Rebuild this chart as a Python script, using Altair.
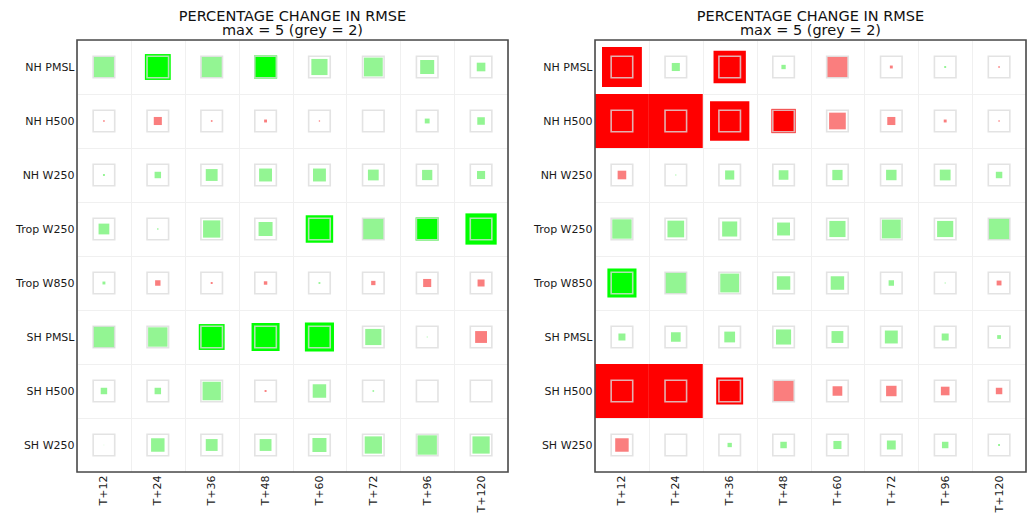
import altair as alt
import pandas as pd

ROWS = ["NH PMSL", "NH H500", "NH W250", "Trop W250", "Trop W850", "SH PMSL", "SH H500", "SH W250"]
LEADS = ["T+12", "T+24", "T+36", "T+48", "T+60", "T+72", "T+96", "T+120"]
MAX_VAL = 5
GREY_VAL = 2

# Percentage change in RMSE (negative = improvement, green; positive = degradation, red)
L_NH_PMSL = [-1.9, -2.4, -1.9, -2.15, -1.5, -1.75, -1.3, -0.8]
L_NH_H500 = [0.15, 0.75, 0.15, 0.27, 0.12, 0.0, -0.45, -0.7]
L_NH_W250 = [-0.18, -0.6, -1.1, -1.2, -1.2, -1.0, -0.95, -0.75]
L_TROP_W250 = [-1.0, -0.12, -1.6, -1.3, -2.55, -1.95, -2.15, -2.9]
L_TROP_W850 = [-0.27, 0.5, 0.18, 0.32, -0.17, 0.4, 0.75, 0.65]
L_SH_PMSL = [-2.0, -1.8, -2.4, -2.6, -2.7, -1.5, -0.08, 1.1]
L_SH_H500 = [-0.6, -0.6, -1.7, 0.18, -1.25, -0.15, 0.0, 0.0]
L_SH_W250 = [-0.05, -1.25, -1.1, -1.1, -1.3, -1.6, -1.8, -1.6]

R_NH_PMSL = [3.7, -0.75, 3.0, -0.4, 1.9, 0.27, -0.18, 0.15]
R_NH_H500 = [5.6, 5.3, 3.65, 2.25, 1.55, 0.75, 0.27, 0.12]
R_NH_W250 = [0.8, -0.1, -0.85, -0.9, -0.95, -0.97, -1.0, -0.6]
R_TROP_W250 = [-1.8, -1.55, -1.4, -1.2, -1.5, -1.75, -1.5, -1.95]
R_TROP_W850 = [-2.7, -1.95, -1.75, -1.25, -1.25, -0.5, -0.1, 0.45]
R_SH_PMSL = [-0.65, -0.9, -1.0, -1.4, -1.1, -1.2, -0.65, -0.35]
R_SH_H500 = [5.4, 5.2, 2.5, 1.9, 0.9, 0.97, 0.8, 0.6]
R_SH_W250 = [1.25, 0.0, -0.4, -0.6, -0.75, -0.82, -0.6, -0.18]

LEFT = [L_NH_PMSL, L_NH_H500, L_NH_W250, L_TROP_W250, L_TROP_W850, L_SH_PMSL, L_SH_H500, L_SH_W250]
RIGHT = [R_NH_PMSL, R_NH_H500, R_NH_W250, R_TROP_W250, R_TROP_W850, R_SH_PMSL, R_SH_H500, R_SH_W250]

W = 431
H = 432
CELL = W / len(LEADS)


def frame(vals):
    recs = []
    for r, row in zip(ROWS, vals):
        for lead, v in zip(LEADS, row):
            recs.append({"row": r, "lead": lead, "val": v})
    return pd.DataFrame(recs)


def panel(vals):
    df = frame(vals)
    base = alt.Chart(df).transform_calculate(
        mag=f"min(abs(datum.val), {MAX_VAL})",
        sz="datum.mag * datum.mag",
        ref=f"{GREY_VAL} * {GREY_VAL}",
        cat=f"datum.val > {GREY_VAL} ? 'bad+' : (datum.val > 0 ? 'bad' : (datum.val < -{GREY_VAL} ? 'good+' : 'good'))",
    )
    x = alt.X(
        "lead:N",
        sort=LEADS,
        scale=alt.Scale(type="band", paddingInner=0, paddingOuter=0),
        axis=alt.Axis(
            title=None, labelAngle=-90, ticks=False, domain=False, grid=True,
            tickBand="extent", gridColor="#f0f0f0", gridWidth=1,
            labelPadding=3, labelFontSize=11, labelColor="#1a1a1a", labelFont="DejaVu Sans",
        ),
    )
    y = alt.Y(
        "row:N",
        sort=ROWS,
        scale=alt.Scale(type="band", paddingInner=0, paddingOuter=0),
        axis=alt.Axis(
            title=None, ticks=False, domain=False, grid=True,
            tickBand="extent", gridColor="#f0f0f0", gridWidth=1,
            labelPadding=3, labelFontSize=11, labelColor="#1a1a1a", labelFont="DejaVu Sans",
            minExtent=63, maxExtent=63,
        ),
    )
    size_scale = alt.Scale(type="linear", domain=[0, MAX_VAL * MAX_VAL], range=[0, CELL * CELL])
    filled = base.mark_square(opacity=1, strokeWidth=0).encode(
        x=x,
        y=y,
        size=alt.Size("sz:Q", scale=size_scale, legend=None),
        color=alt.Color(
            "cat:N",
            scale=alt.Scale(domain=["good+", "good", "bad", "bad+"],
                            range=["#00ff00", "#93f593", "#fa7e7e", "#ff0000"]),
            legend=None,
        ),
    )
    ref = base.mark_square(filled=False, stroke="#dcdcdc", strokeOpacity=0.8, strokeWidth=1.6, opacity=1).encode(
        x=x,
        y=y,
        size=alt.Size("ref:Q", scale=size_scale, legend=None),
    )
    border = alt.Chart(pd.DataFrame({"b": [0]})).mark_rect(
        filled=False, stroke="#4a4a4a", strokeWidth=1.6
    ).encode(
        x=alt.value(0), x2=alt.value(W), y=alt.value(0), y2=alt.value(H)
    )
    return alt.layer(filled, ref, border).properties(
        width=W,
        height=H,
        title=alt.Title(
            ["PERCENTAGE CHANGE IN RMSE", f"max = {MAX_VAL} (grey = {GREY_VAL})"],
            fontSize=14.5, font="DejaVu Sans", fontWeight="normal", color="#111",
            lineHeight=14, offset=-4, anchor="middle",
        ),
    )


chart = alt.hconcat(panel(LEFT), panel(RIGHT), spacing=21).properties(
    padding={"left": 5, "top": 0, "right": 0, "bottom": 0}
).configure_view(
    stroke=None
).configure(font="DejaVu Sans")

chart.save("out.html", embed_options={"renderer": "svg", "actions": False})
